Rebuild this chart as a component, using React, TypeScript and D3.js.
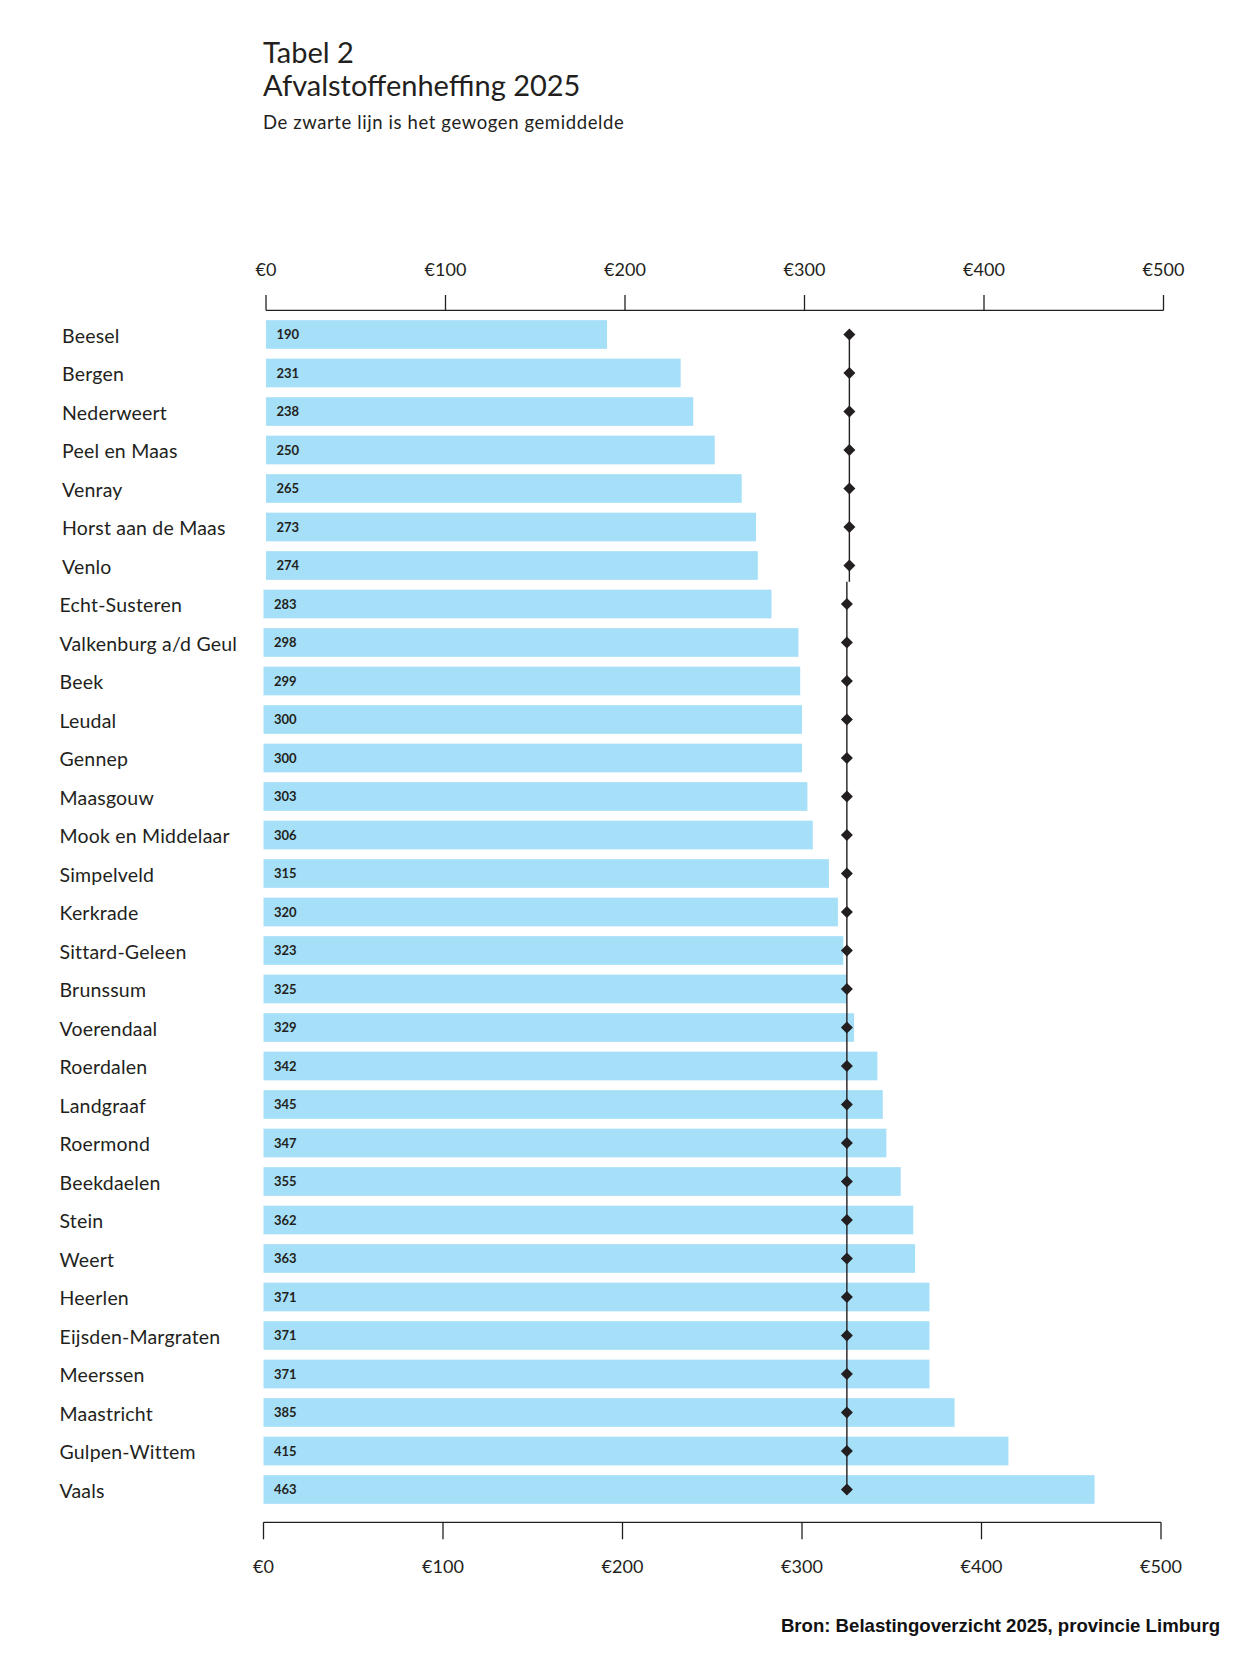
import React from "react";
import * as d3 from "d3";

// Afvalstoffenheffing 2025 per gemeente (euro)
const municipalities = [
  "Beesel", "Bergen", "Nederweert", "Peel en Maas", "Venray", "Horst aan de Maas", "Venlo",
  "Echt-Susteren", "Valkenburg a/d Geul", "Beek", "Leudal", "Gennep", "Maasgouw",
  "Mook en Middelaar", "Simpelveld", "Kerkrade", "Sittard-Geleen", "Brunssum", "Voerendaal",
  "Roerdalen", "Landgraaf", "Roermond", "Beekdaelen", "Stein", "Weert", "Heerlen",
  "Eijsden-Margraten", "Meerssen", "Maastricht", "Gulpen-Wittem", "Vaals",
];
const levies = [
  190, 231, 238, 250, 265, 273, 274,
  283, 298, 299, 300, 300, 303,
  306, 315, 320, 323, 325, 329,
  342, 345, 347, 355, 362, 363, 371,
  371, 371, 385, 415, 463,
];
const weightedMean = 325;
const tickValues = [0, 100, 200, 300, 400, 500];
// the first rows are printed as a separate upper panel
const upperPanelRows = 7;

const titleLines = ["Tabel 2", "Afvalstoffenheffing 2025"];
const subtitle = "De zwarte lijn is het gewogen gemiddelde";
const source = "Bron: Belastingoverzicht 2025, provincie Limburg";

const W = 1251;
const H = 1664;
const INK = "#231f20";
const BAR = "#a6dff8";
const FONT = "Lato, 'Open Sans', sans-serif";

export default function App() {
  const rows = municipalities.map((name, i) => ({ name, value: levies[i], i }));

  const x = d3.scaleLinear().domain([0, 500]).range([263.5, 1161]);
  const y = d3
    .scaleBand<string>()
    .domain(municipalities)
    .range([315.25, 1508.75])
    .paddingInner(0.255)
    .paddingOuter(0.1275);
  const bw = y.bandwidth();
  const cy = (n: string) => (y(n) as number) + bw / 2;

  const diamond = d3.symbol().type(d3.symbolDiamond2).size(92)() as string;

  const upper = rows.slice(0, upperPanelRows);
  const lower = rows.slice(upperPanelRows);
  const breakY = cy(municipalities[upperPanelRows - 1]) + bw / 2 + 2;

  const topAxisY = 310.3;
  const bottomAxisY = 1522.3;

  const rowMarks = (r: { name: string; value: number; i: number }) => (
    <g key={r.name}>
      <text
        x={59.5}
        y={cy(r.name) + 8.3}
        fontSize={19.5}
        letterSpacing={0.2}
        fill={INK}
        fontFamily={FONT}
      >
        {r.name}
      </text>
      <rect x={x(0)} y={y(r.name)} width={x(r.value) - x(0)} height={bw} fill={BAR} />
      <text
        x={x(0) + 10.5}
        y={cy(r.name)}
        dy="0.36em"
        fontSize={13}
        fontWeight={700}
        fill={INK}
        fontFamily={FONT}
      >
        {r.value}
      </text>
    </g>
  );

  const meanMarks = (set: typeof rows, y0: number, y1: number) => (
    <g>
      <line x1={x(weightedMean)} x2={x(weightedMean)} y1={y0} y2={y1} stroke={INK} strokeWidth={1.4} />
      {set.map((r) => (
        <path
          key={r.name}
          d={diamond}
          transform={`translate(${x(weightedMean)},${cy(r.name)})`}
          fill={INK}
        />
      ))}
    </g>
  );

  return (
    <svg
      width={W}
      height={H}
      viewBox={`0 0 ${W} ${H}`}
      style={{ position: "absolute", left: 0, top: 0, background: "#fff" }}
    >
      <rect width={W} height={H} fill="#fff" />

      {/* titles */}
      <g fill={INK} fontFamily={FONT}>
        <text x={263} y={63.3} fontSize={29}>{titleLines[0]}</text>
        <text x={263} y={96} fontSize={29}>{titleLines[1]}</text>
        <text x={263} y={129} fontSize={18.5} letterSpacing={0.6}>{subtitle}</text>
      </g>

      {/* upper panel: top axis and first rows */}
      <g transform="translate(2.5,0)">
        <line x1={x(0)} x2={x(500)} y1={topAxisY} y2={topAxisY} stroke={INK} strokeWidth={1.3} />
        {tickValues.map((t) => (
          <g key={t}>
            <line x1={x(t)} x2={x(t)} y1={295} y2={topAxisY} stroke={INK} strokeWidth={1.3} />
            <text x={x(t)} y={276} textAnchor="middle" fontSize={18} fill={INK} fontFamily={FONT}>
              {`€${t}`}
            </text>
          </g>
        ))}
        {upper.map(rowMarks)}
        {meanMarks(upper, cy(municipalities[0]), breakY)}
      </g>

      {/* lower panel: remaining rows and bottom axis */}
      <g>
        {lower.map(rowMarks)}
        {meanMarks(lower, breakY, cy(municipalities[municipalities.length - 1]))}
        <line x1={x(0)} x2={x(500)} y1={bottomAxisY} y2={bottomAxisY} stroke={INK} strokeWidth={1.3} />
        {tickValues.map((t) => (
          <g key={t}>
            <line x1={x(t)} x2={x(t)} y1={bottomAxisY} y2={1539.3} stroke={INK} strokeWidth={1.3} />
            <text x={x(t)} y={1572.7} textAnchor="middle" fontSize={18} fill={INK} fontFamily={FONT}>
              {`€${t}`}
            </text>
          </g>
        ))}
      </g>

      <text
        x={1220}
        y={1632}
        textAnchor="end"
        fontSize={18.6}
        fontWeight={700}
        fill="#111"
        fontFamily="'Liberation Sans', Arial, sans-serif"
      >
        {source}
      </text>
    </svg>
  );
}
